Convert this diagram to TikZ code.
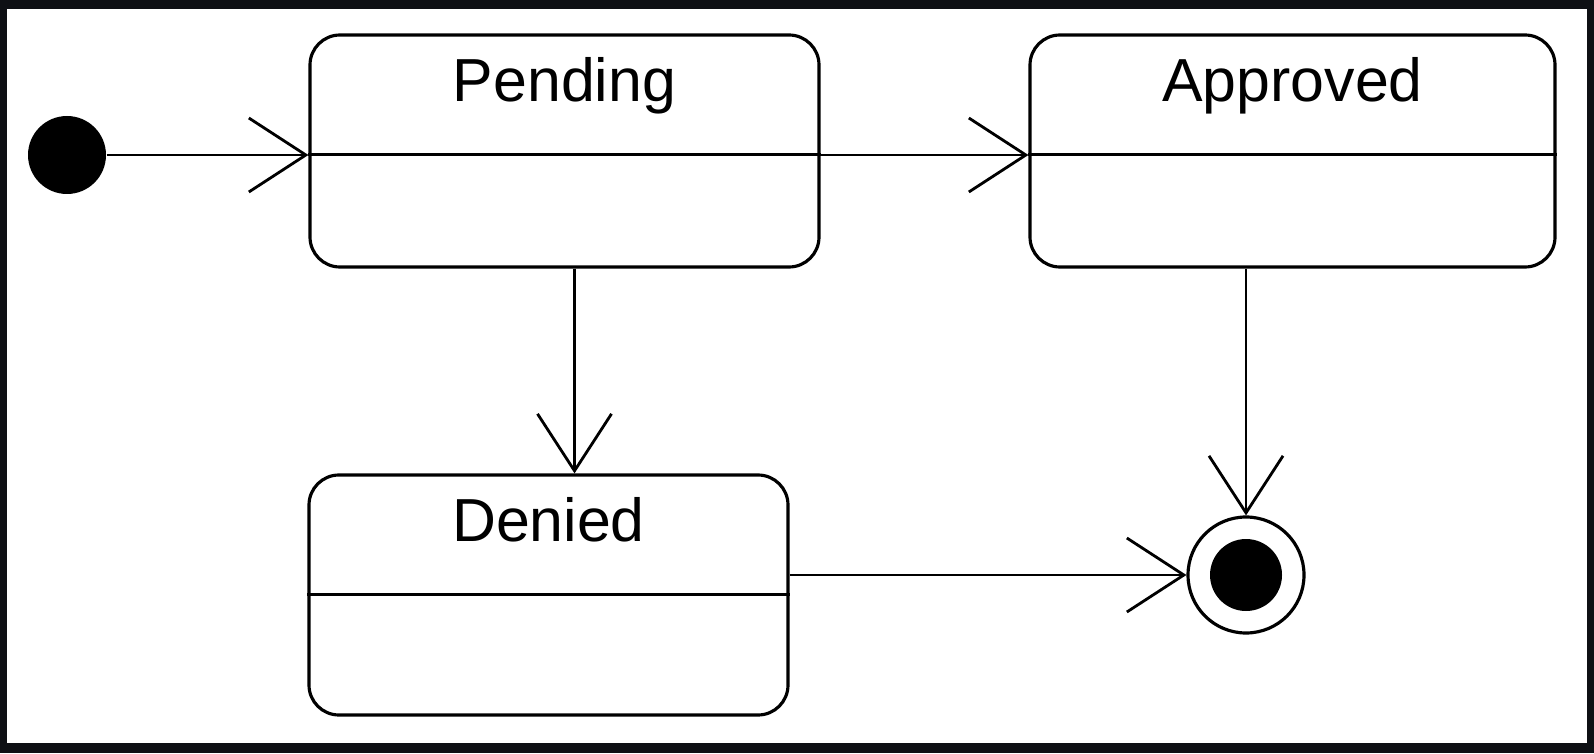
\documentclass[tikz,border=0pt]{standalone}
\usepackage{fontspec}
\setmainfont{Liberation Sans}
\usetikzlibrary{positioning,arrows.meta}
\definecolor{framedark}{RGB}{14,16,20}

\begin{document}
\begin{tikzpicture}[
    state/.style={draw, line width=0.9pt, rounded corners=3mm, fill=white, inner sep=0pt},
    statename/.style={anchor=base, inner sep=0pt, font=\fontsize{17.3}{20}\selectfont},
    trans/.style={line width=0.8pt, -{Straight Barb[length=5.7mm, width=7.4mm]}},
    startdot/.style={circle, fill=black, minimum size=7.8mm, inner sep=0pt},
    endring/.style={circle, draw, line width=0.9pt, fill=white, minimum size=11.6mm, inner sep=0pt},
    enddot/.style={circle, fill=black, minimum size=7.2mm, inner sep=0pt}
]
    \fill[framedark] (0,0) rectangle (15.94,7.53);
    \fill[white] (0.07,0.10) rectangle (15.87,7.44);
    \useasboundingbox (0,0) rectangle (15.94,7.53);

    \node[startdot] (init) at (0.67,5.98) {};

    \node[state, minimum width=50.9mm, minimum height=23.2mm] (pending) at (5.645,6.02) {};
    \node[state, minimum width=52.5mm, minimum height=23.2mm] (approved) at (12.925,6.02) {};
    \node[state, minimum width=47.9mm, minimum height=24.0mm] (denied) at (5.485,1.58) {};

    \node[statename] (pendingname) at ([yshift=-6.8mm]pending.north) {Pending};
    \node[statename] (approvedname) at ([yshift=-6.8mm]approved.north) {Approved};
    \node[statename] (deniedname) at ([yshift=-6.8mm]denied.north) {Denied};

    \foreach \s in {pending, approved, denied}
        \draw[line width=0.8pt] ([yshift=-12.1mm]\s.north west) -- ([yshift=-12.1mm]\s.north east);

    \node[endring] (final) at (12.46,1.78) {};
    \node[enddot] (finalcore) at (final) {};

    \draw[trans] (init) -- (init -| pending.west);
    \draw[trans] (pending.east |- init) -- (approved.west |- init);
    \draw[trans] ([xshift=1mm]pending.south) -- ([xshift=1mm]pending.south |- denied.north);
    \draw[trans] (denied.east |- final) -- (final);
    \draw[trans] (final |- approved.south) -- (final);
\end{tikzpicture}
\end{document}
